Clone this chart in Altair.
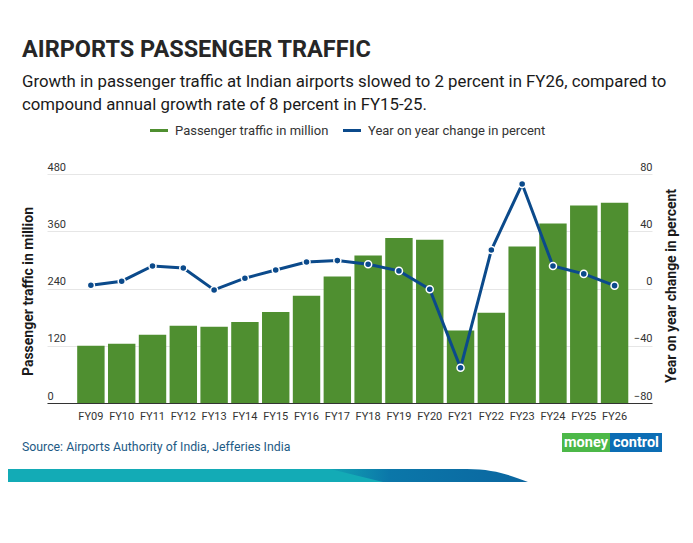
import altair as alt
import pandas as pd

# ---------------- data ----------------
years = ["FY09", "FY10", "FY11", "FY12", "FY13", "FY14", "FY15", "FY16", "FY17",
         "FY18", "FY19", "FY20", "FY21", "FY22", "FY23", "FY24", "FY25", "FY26"]
traffic = [120, 124, 143, 162, 160, 170, 191, 225, 265,
           309, 346, 342, 152, 189, 328, 376, 414, 420]
yoy = [2.3, 5.1, 15.7, 14.3, -1.0, 7.2, 12.9, 18.5, 19.5,
       16.9, 12.3, -0.5, -55.4, 26.9, 73.0, 15.7, 10.2, 2.0]

left_ticks = [0, 120, 240, 360, 480]
right_ticks = [-80, -40, 0, 40, 80]

title_text = "AIRPORTS PASSENGER TRAFFIC"
subtitle_lines = [
    "Growth in passenger traffic at Indian airports slowed to 2 percent in FY26, compared to",
    "compound annual growth rate of 8 percent in FY15-25.",
]
legend_labels = ["Passenger traffic in million", "Year on year change in percent"]
left_title = "Passenger traffic in million"
right_title = "Year on year change in percent"
source_text = "Source: Airports Authority of India, Jefferies India"
logo_parts = ["money", "control"]

df = pd.DataFrame({"year": years, "traffic": traffic, "yoy": yoy})
one = pd.DataFrame({"k": [0]})

# ---------------- style ----------------
GREEN = "#4f8f30"
BLUE = "#0b4a8b"
FONT = "Roboto"
OX, OY = 47, 174  # plot origin in page pixels
W, H = 605, 229


def rx(x):
    return x - OX


def ry(y):
    return y - OY


def txt(text, x, y, size, weight="normal", color="#222222", font=FONT,
        align="left", baseline="alphabetic", angle=0):
    return alt.Chart(one).mark_text(
        text=text, align=align, baseline=baseline, fontSize=size,
        fontWeight=weight, color=color, font=font, angle=angle
    ).encode(x=alt.value(rx(x)), y=alt.value(ry(y)))


xenc = alt.X(
    "year:N", sort=years,
    scale=alt.Scale(paddingInner=0.11, paddingOuter=0.875, align=0.56),
    axis=alt.Axis(title=None, labelAngle=0, ticks=False, tickSize=0, labelPadding=7,
                  domainColor="#333333", domainWidth=1, labelFontSize=11,
                  labelColor="#333333", labelFont=FONT, grid=False),
)

bars = alt.Chart(df).mark_bar(color=GREEN).encode(
    x=xenc,
    y=alt.Y("traffic:Q", scale=alt.Scale(domain=[0, 480], nice=False),
            axis=alt.Axis(values=left_ticks, title=None, orient="left",
                          labelAlign="left", labelPadding=0, ticks=False, tickSize=0,
                          domain=False, labelBaseline="alphabetic", labelOffset=-4,
                          grid=True, gridColor="#e6e6e6", labelFontSize=11,
                          labelColor="#333333", labelFont=FONT)),
)

yr = alt.Y("yoy:Q", scale=alt.Scale(domain=[-80, 80], nice=False),
           axis=alt.Axis(values=right_ticks, title=None, orient="right",
                         labelAlign="right", labelPadding=0, ticks=False, tickSize=0,
                         domain=False, labelBaseline="alphabetic", labelOffset=-4,
                         grid=False, labelFontSize=11, labelColor="#333333",
                         labelFont=FONT))

line = alt.Chart(df).mark_line(color=BLUE, strokeWidth=3).encode(x=xenc, y=yr)
pts = alt.Chart(df).mark_point(filled=True, size=50, color=BLUE, stroke="white",
                               strokeWidth=1.5, opacity=1).encode(x=xenc, y=yr)
line_layer = alt.layer(line, pts)

# ---------------- annotations ----------------
ann = [
    txt(title_text, 22, 57, 23.5, weight="bold", color="#262626"),
    txt(subtitle_lines[0], 22, 87, 16.8, color="#1a1a1a"),
    txt(subtitle_lines[1], 22, 110, 16.8, color="#1a1a1a"),
    alt.Chart(one).mark_rule(color=GREEN, strokeWidth=3).encode(
        x=alt.value(rx(150)), x2=alt.value(rx(168)), y=alt.value(ry(130.5))),
    txt(legend_labels[0], 175, 134.5, 13, color="#333333"),
    alt.Chart(one).mark_rule(color=BLUE, strokeWidth=3).encode(
        x=alt.value(rx(343)), x2=alt.value(rx(361)), y=alt.value(ry(130.5))),
    txt(legend_labels[1], 368, 134.5, 13, color="#333333"),
    txt(left_title, 28.5, 291.5, 14, weight="bold", color="#1a1a1a",
        align="center", baseline="middle", angle=270),
    txt(right_title, 672, 286, 14, weight="bold", color="#1a1a1a",
        align="center", baseline="middle", angle=270),
    txt(source_text, 22, 451, 12.3, color="#1d5a85"),
    # logo
    alt.Chart(one).mark_rect(color="#4cb848").encode(
        x=alt.value(rx(562)), x2=alt.value(rx(610)),
        y=alt.value(ry(433)), y2=alt.value(ry(452))),
    alt.Chart(one).mark_rect(color="#0c6db4").encode(
        x=alt.value(rx(610)), x2=alt.value(rx(662)),
        y=alt.value(ry(433)), y2=alt.value(ry(452))),
    txt(logo_parts[0], 586, 447, 14.5, weight="bold", color="white", align="center"),
    txt(logo_parts[1], 636, 447, 14.5, weight="bold", color="white", align="center"),
    # bottom stripe
    alt.Chart(one).mark_point(
        shape="M0,0 L335,0 L385,13 L0,13 Z", size=4, filled=True,
        fill="#13abb6", strokeWidth=0, opacity=1
    ).encode(x=alt.value(rx(8)), y=alt.value(ry(469))),
    alt.Chart(one).mark_point(
        shape="M322,0 L459,0 C487,0 504,7 520,13 L375,13 Z", size=4, filled=True,
        fill=alt.Gradient(gradient="linear",
                          stops=[alt.GradientStop(color="#13a3b3", offset=0),
                                 alt.GradientStop(color="#0b77a9", offset=0.3),
                                 alt.GradientStop(color="#0b66a0", offset=1)],
                          x1=0, x2=1, y1=0, y2=0),
        strokeWidth=0, opacity=1
    ).encode(x=alt.value(rx(8)), y=alt.value(ry(469))),
]

chart = alt.layer(bars, line_layer, *ann).resolve_scale(y="independent").properties(
    width=W, height=H,
    autosize=alt.AutoSizeParams(type="none"),
    padding={"left": OX - 8, "top": OY - 8, "right": 693 - 16 - (OX - 8) - W,
             "bottom": 543 - 16 - (OY - 8) - H},
    background="white",
).configure_view(stroke=None)

chart.save("out.html", embed_options={"renderer": "svg", "actions": False})
